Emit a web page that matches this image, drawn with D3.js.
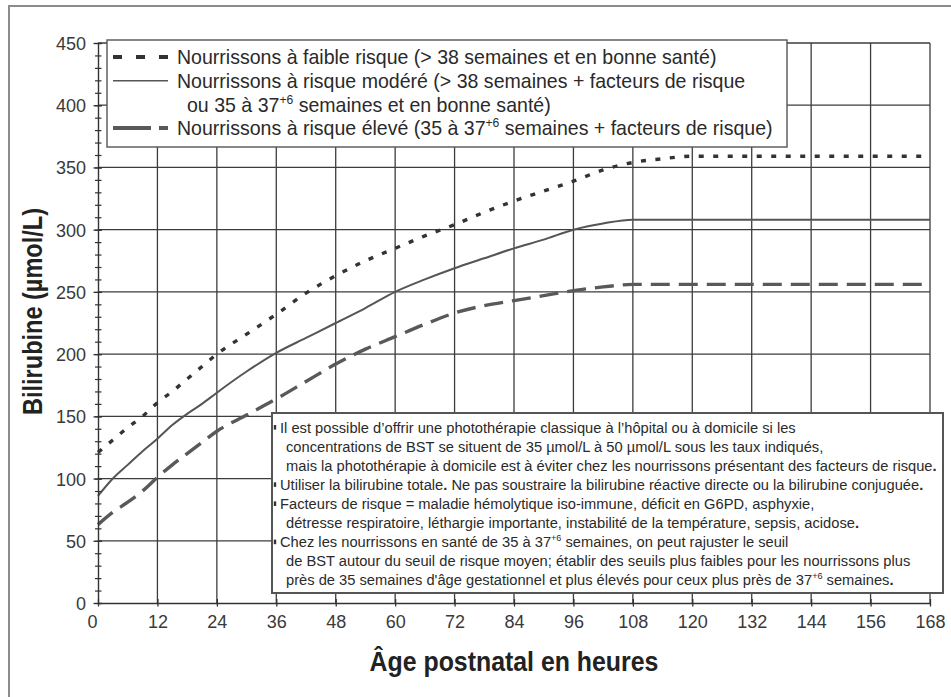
<!DOCTYPE html>
<html>
<head>
<meta charset="utf-8">
<script src="https://cdn.jsdelivr.net/npm/d3@7"></script>
<style>
  body { margin: 0; background: #fff; }
  svg { display: block; }
</style>
</head>
<body>
<div id="chart"></div>
<script>
/*
 * Fototerapian hoitorajat (bilirubiini) vastasyntyneen iän mukaan.
 * Arvot on luettu kuvasta silmämääräisesti.
 */
var hours    = [0, 3, 6, 9, 12, 15, 18, 21, 24, 30, 36, 42, 48, 54, 60, 66, 72, 78, 84, 90, 96, 102, 108, 114, 120, 132, 144, 156, 168];
var lowRisk  = [121, 131, 141, 150, 161, 170, 180, 190, 200, 216, 232, 249, 263, 275, 285, 295, 304, 314, 323, 331, 339, 348, 354, 357, 359, 359, 359, 359, 359];
var modRisk  = [86, 100, 111, 122, 132, 143, 152, 160, 169, 186, 201, 213, 225, 237, 250, 260, 269, 277, 285, 292, 300, 305, 308, 308, 308, 308, 308, 308, 308];
var highRisk = [63, 73, 81, 90, 101, 111, 120, 129, 138, 151, 164, 178, 192, 204, 214, 224, 233, 239, 243, 247, 251, 254, 256, 256, 256, 256, 256, 256, 256];

var xTicks = [0, 12, 24, 36, 48, 60, 72, 84, 96, 108, 120, 132, 144, 156, 168];
var yTicks = [0, 50, 100, 150, 200, 250, 300, 350, 400, 450];

var xTitle = "Âge postnatal en heures";
var yTitle = "Bilirubine (µmol/L)";

// ^..^ = yläindeksi, *..* = lihavoitu
var legendLines = [
  "Nourrissons à faible risque (> 38 semaines et en bonne santé)",
  "Nourrissons à risque modéré (> 38 semaines + facteurs de risque",
  "ou 35 à 37^+6^ semaines et en bonne santé)",
  "Nourrissons à risque élevé (35 à 37^+6^ semaines + facteurs de risque)"
];

var noteLines = [
  "Il est possible d’offrir une photothérapie classique à l’hôpital ou à domicile si les",
  "concentrations de BST se situent de 35 µmol/L à 50 µmol/L sous les taux indiqués,",
  "mais la photothérapie à domicile est à éviter chez les nourrissons présentant des facteurs de risque*.*",
  "Utiliser la bilirubine totale*.* Ne pas soustraire la bilirubine réactive directe ou la bilirubine conjuguée*.*",
  "Facteurs de risque = maladie hémolytique iso-immune, déficit en G6PD, asphyxie,",
  "détresse respiratoire, léthargie importante, instabilité de la température, sepsis, acidose*.*",
  "Chez les nourrissons en santé de 35 à 37^+6^ semaines, on peut rajuster le seuil",
  "de BST autour du seuil de risque moyen; établir des seuils plus faibles pour les nourrissons plus",
  "près de 35 semaines d'âge gestationnel et plus élevés pour ceux plus près de 37^+6^ semaines*.*"
];
var noteBullets = [true, false, false, true, true, false, true, false, false];

var narrow = "'Liberation Sans Narrow', 'Arial Narrow', 'Liberation Sans', Arial, sans-serif";
var plain  = "'Liberation Sans', Arial, Helvetica, sans-serif";

var width = 951;
var height = 697;

var x = d3.scaleLinear().domain([0, 168]).range([98, 930]);
var y = d3.scaleLinear().domain([0, 450]).range([603, 43]);

var svg = d3.select("#chart").append("svg")
  .attr("width", width)
  .attr("height", height);

// kehys, oikea ja alareuna jäävät kuvan ulkopuolelle
svg.append("rect")
  .attr("x", 9).attr("y", 6)
  .attr("width", 1000).attr("height", 1000)
  .attr("fill", "none")
  .attr("stroke", "#8c8c8c")
  .attr("stroke-width", 2);

/*
 * Ruudukko
 */
var grid = svg.append("g").attr("stroke", "#3c3c3c").attr("stroke-width", 1.3);

grid.selectAll("line.v")
  .data(xTicks.filter(function(d) { return d > 0; }))
  .enter().append("line")
  .attr("class", "v")
  .attr("x1", function(d) { return x(d); })
  .attr("x2", function(d) { return x(d); })
  .attr("y1", y(0))
  .attr("y2", y(450));

grid.selectAll("line.h")
  .data(yTicks.filter(function(d) { return d > 0; }))
  .enter().append("line")
  .attr("class", "h")
  .attr("x1", x(0))
  .attr("x2", x(168))
  .attr("y1", function(d) { return y(d); })
  .attr("y2", function(d) { return y(d); });

/*
 * Käyrät
 */
var series = [
  { values: lowRisk,  color: "#333", width: 3.4, dash: "5,9.5" },
  { values: modRisk,  color: "#555", width: 2,   dash: null },
  { values: highRisk, color: "#595959", width: 3.4, dash: "19,9" }
];

var line = d3.line()
  .x(function(d) { return x(d[0]); })
  .y(function(d) { return y(d[1]); })
  .curve(d3.curveMonotoneX);

series.forEach(function(s) {
  svg.append("path")
    .datum(hours.map(function(h, i) { return [h, s.values[i]]; }))
    .attr("fill", "none")
    .attr("stroke", s.color)
    .attr("stroke-width", s.width)
    .attr("stroke-dasharray", s.dash)
    .attr("d", line);
});

/*
 * Akselit
 */
var yMinor = svg.append("g")
  .attr("transform", "translate(" + x(0) + ",0)")
  .call(d3.axisLeft(y).ticks(45).tickSize(3).tickSizeOuter(0).tickFormat(""));
yMinor.select(".domain").remove();
yMinor.selectAll(".tick line").attr("x1", 3.5).attr("stroke", "#333").attr("stroke-width", 1.2);

var yAxis = svg.append("g")
  .attr("transform", "translate(" + x(0) + ",0)")
  .call(d3.axisLeft(y).tickValues(yTicks).tickSize(4.5).tickSizeOuter(0));
yAxis.select(".domain").attr("stroke", "#333").attr("stroke-width", 1.4);
yAxis.selectAll(".tick line").attr("x1", 4).attr("stroke", "#333").attr("stroke-width", 1.3);
yAxis.selectAll(".tick text")
  .attr("x", -12)
  .attr("dy", "0.36em")
  .attr("fill", "#3a3a3a")
  .attr("font-family", plain)
  .attr("font-size", 18);

var xAxis = svg.append("g")
  .attr("transform", "translate(0," + y(0) + ")")
  .call(d3.axisBottom(x).tickValues(xTicks).tickSize(3.5).tickSizeOuter(0));
xAxis.select(".domain").attr("stroke", "#333").attr("stroke-width", 1.4);
xAxis.selectAll(".tick line").attr("y1", -4).attr("stroke", "#333").attr("stroke-width", 1.3);
xAxis.selectAll(".tick text")
  .attr("y", 19)
  .attr("dy", "0.36em")
  .attr("x", function(d) { return d === 0 ? -6 : 0; })
  .attr("fill", "#3a3a3a")
  .attr("font-family", plain)
  .attr("font-size", 18);

/*
 * Tekstirivin muotoilu: yläindeksit ja lihavoidut pisteet tspan-osina
 */
var addRich = function(textSel, str, size) {
  var up = size * 0.4;
  var raised = false;
  str.split(/(\^[^\^]*\^|\*[^*]*\*)/).forEach(function(p) {
    if (!p) return;
    var t;
    if (p.charAt(0) === "^") {
      textSel.append("tspan")
        .attr("dy", -up)
        .attr("font-size", size * 0.62)
        .text(p.slice(1, -1));
      raised = true;
      return;
    }
    t = textSel.append("tspan");
    if (raised) { t.attr("dy", up); raised = false; }
    if (p.charAt(0) === "*") {
      t.attr("font-weight", "bold").text(p.slice(1, -1));
    } else {
      t.text(p);
    }
  });
};

/*
 * Teksti sijoitetaan translate-muunnoksella, jotta rivin voi kaventaa
 * vaakasuunnassa scale-muunnoksella (kapea kirjasin ei välttämättä ole saatavilla)
 */
var placeText = function(parent, base) {
  var t = parent.append("text").attr("transform", base);
  t.node().__base = base;
  return t;
};

// kavennetaan rivejä samassa suhteessa, jotta vertailurivi osuu annettuun leveyteen
var fitTexts = function(nodes, refNode, target) {
  var k = target / refNode.getComputedTextLength();
  nodes.forEach(function(n) {
    n.setAttribute("transform", n.__base + " scale(" + k + ",1)");
  });
};

/*
 * Selite
 */
var legend = svg.append("g");

legend.append("rect")
  .attr("x", 107).attr("y", 40)
  .attr("width", 680).attr("height", 107)
  .attr("fill", "#fff")
  .attr("stroke", "#555")
  .attr("stroke-width", 1.4);

var legendRow = function(i) { return 57 + i * 23.7; };
var sampleRows = [0, 1, 3];
var sampleDash = ["9,14", null, "38,8"];
var sampleWidth = [4, 1.6, 4];

series.forEach(function(s, i) {
  legend.append("line")
    .attr("x1", 113).attr("x2", 168)
    .attr("y1", legendRow(sampleRows[i]))
    .attr("y2", legendRow(sampleRows[i]))
    .attr("stroke", s.color)
    .attr("stroke-width", sampleWidth[i])
    .attr("stroke-dasharray", sampleDash[i]);
});

var legendNodes = [];
legendLines.forEach(function(str, i) {
  var t = placeText(legend, "translate(" + (i === 2 ? 187 : 177) + "," + legendRow(i) + ")")
    .attr("dy", "0.36em")
    .attr("font-family", narrow)
    .attr("font-size", 20)
    .attr("fill", "#2a2a2a");
  addRich(t, str, 20);
  legendNodes.push(t.node());
});
fitTexts(legendNodes, legendNodes[3], 596);

/*
 * Huomautuslaatikko
 */
var note = svg.append("g");

note.append("rect")
  .attr("x", 272).attr("y", 413)
  .attr("width", 671).attr("height", 180)
  .attr("fill", "#fff")
  .attr("stroke", "#555")
  .attr("stroke-width", 2);

var noteNodes = [];
noteLines.forEach(function(str, i) {
  var cy = 427 + i * 19.1;
  if (noteBullets[i]) {
    note.append("rect")
      .attr("x", 273.8).attr("y", cy - 2)
      .attr("width", 2.4).attr("height", 4.6)
      .attr("fill", "#333");
  }
  var t = placeText(note, "translate(" + (noteBullets[i] ? 280 : 286) + "," + cy + ")")
    .attr("dy", "0.36em")
    .attr("font-family", narrow)
    .attr("font-size", 15.5)
    .attr("fill", "#2a2a2a");
  addRich(t, str, 15.5);
  noteNodes.push(t.node());
});
fitTexts(noteNodes, noteNodes[2], 651);

/*
 * Akselien otsikot
 */
var xt = placeText(svg, "translate(514,661)")
  .attr("dy", "0.36em")
  .attr("text-anchor", "middle")
  .attr("font-family", narrow)
  .attr("font-weight", "bold")
  .attr("font-size", 28)
  .attr("fill", "#222")
  .text(xTitle);

var yt = placeText(svg, "translate(31.5,311.5) rotate(-90)")
  .attr("dy", "0.36em")
  .attr("text-anchor", "middle")
  .attr("font-family", narrow)
  .attr("font-weight", "bold")
  .attr("font-size", 28)
  .attr("fill", "#222")
  .text(yTitle);

fitTexts([xt.node()], xt.node(), 289);
fitTexts([yt.node()], yt.node(), 207);
</script>
</body>
</html>
